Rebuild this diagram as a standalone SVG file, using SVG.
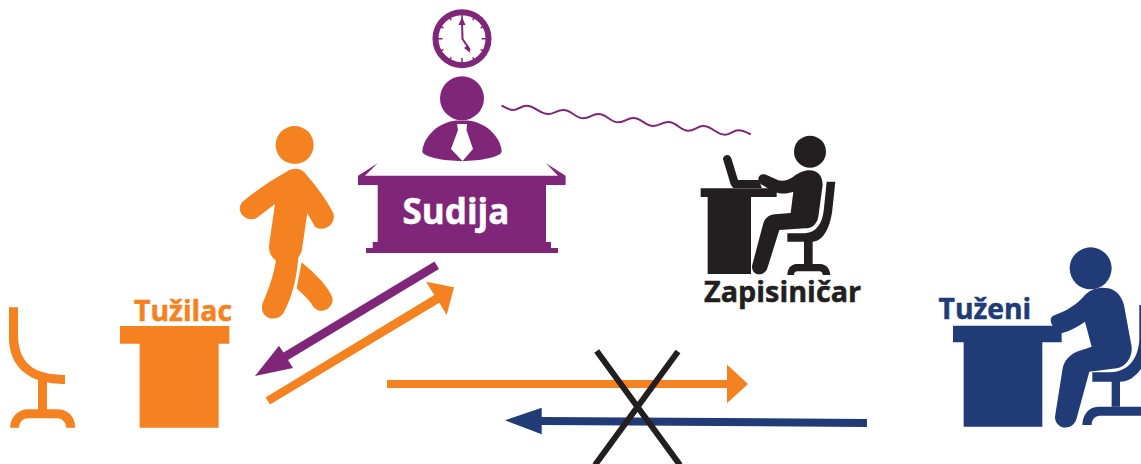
<svg xmlns="http://www.w3.org/2000/svg" width="1141" height="464" viewBox="0 0 1141 464">
<style>
.p{fill:#7f2679}.o{fill:#f58220}.n{fill:#203b75}.k{fill:#231f20}
text{font-family:"Open Sans","Liberation Sans",sans-serif;font-weight:700;stroke-width:.5px}
</style>
<rect width="1141" height="464" fill="#fff"/>
<g id="sudija">
<circle cx="462" cy="38.700" r="26.500" fill="none" stroke="#7f2679" stroke-width="6"/>
<g stroke="#7f2679" stroke-width="1.500">
<path d="M462 14V19M462 58V63M437.500 38.700H442.500M481.500 38.700H486.500M449.800 17.500l1.500 2.600M472.700 57.300l1.500 2.600M440.800 26.500l2.600 1.500M480.600 49.400l2.600 1.500M440.800 50.900l2.600-1.500M480.600 28l2.600-1.500M449.800 59.900l1.500-2.600M472.700 20.100l1.500-2.600"/>
<path d="M462 22L462.500 39L470 50" fill="none" stroke-width="2"/>
</g>
<path class="p" d="M462 17l3.500 8h-7zM470.500 53l-6.500-5 4-3z"/>
<circle class="p" cx="462" cy="98.300" r="22"/>
<path class="p" d="M422.300 151C424 135 440 122 456 120.500L468 120.500C484 122 500 135 501.700 151C502 157 480 161 462 161C444 161 422 157 422.300 151Z"/>
<path fill="#fff" d="M457 124H467L466.500 130L473 149L462.500 161L451 149L458 130Z"/>
<path class="p" d="M358 185V175.700L377.700 163.300L365 175.700H558L546 163.300L565.600 175.700V185H546V242H551V248H558V253H366V248H372.700V242H377.700V185Z"/>
<text x="402.500" y="224" font-size="35" fill="#fff" stroke="#fff">Sudija</text>
</g>
<g id="zapisnicar">
<g transform="translate(680 120) scale(.3333)" class="k">
<circle cx="390" cy="95" r="48"/>
<path d="M62 205H290V231H213V462H83V231H62Z"/>
<path d="M129 117C130 102 150 100 154 115L174 180H236L246 204H160C155 200 152 195 150 187Z"/>
<path d="M235 178C235 165 247 160 258 164L295 181C310 184 325 181 340 170C360 155 385 146 405 154C420 160 428 175 428 195L415 290C410 315 395 325 375 325L298 330L262 445C255 470 215 470 216 438L250 310C255 295 265 285 285 283L332 279L340 215C320 222 300 222 280 215L245 194C238 190 235 185 235 178Z"/>
<path d="M440 185H466L457 270C450 330 425 365 398 365V432H420C440 432 450 448 451 465H428C428 458 424 454 418 454H352C346 454 342 458 342 465H322C322 448 332 432 350 432H372V365H322V340H375C410 338 428 310 432 265Z"/>
</g>
<text x="704" y="301.500" font-size="28.800" fill="#231f20" stroke="#231f20">Zapisiničar</text>
</g>
<g id="tuzeni">
<g transform="translate(930 240) scale(.3333)" class="n">
<circle cx="482" cy="85" r="63"/>
<path d="M69 257H395V307H337V560H101V307H69Z"/>
<path d="M362 240C362 232 368 228 375 225C410 212 440 195 465 165C485 145 510 140 535 145C560 150 575 170 582 195L605 320C608 355 585 380 560 385L478 395L440 535C430 575 375 570 375 530L398 385C403 360 420 345 440 335L485 320L465 245C445 260 420 272 395 280C380 275 362 255 362 240Z"/>
<path d="M628 195H640V375C620 410 595 425 570 425V500H545V425H487V397H540C600 395 625 350 628 300Z"/>
<path d="M457 555C458 525 475 500 505 500H640V527H510C495 527 485 538 485 555Z"/>
</g>
<text x="938.500" y="318.700" font-size="28.300" fill="#203b75" stroke="#203b75">Tuženi</text>
</g>
<g id="tuzilac">
<g transform="translate(0 120) scale(.3333)" class="o">
<circle cx="884" cy="75" r="57"/>
<path d="M360 618H688V671H656V923H419V671H360Z"/>
<path d="M27 562H54V640C54 730 100 765 195 765V792C170 792 155 790 141 787V868H170C205 868 225 890 226 923H199C197 905 185 895 170 895H85C70 895 58 905 57 923H30C32 890 55 868 85 868H114V780C60 760 30 720 27 660Z"/>
<path d="M860 155C880 142 905 143 920 165C950 200 980 240 1000 280C1010 310 975 340 945 320L922 280L905 395L895 413C890 470 880 525 850 580C830 610 775 595 788 550C805 510 820 470 828 423C810 405 805 395 808 370L825 252L775 290C745 315 700 275 728 245C770 210 815 180 860 155Z"/>
<path d="M905 427C950 465 985 500 998 535C1000 570 960 585 940 560C925 535 905 520 890 505Z"/>
</g>
<text x="134" y="321" font-size="28.400" fill="#f58220" stroke="#f58220">Tužilac</text>
</g>
<g id="connectors">
<path fill="none" stroke="#7f2679" stroke-width="2" stroke-linecap="round" d="M502.300 106C506 108 509 110 513.300 110C518 110 521 105.700 526.700 105.700C535 105.700 539 114 548.300 114C554 114 557 110 563.300 110C572 110 575 118.300 583.300 118.300C590 118.300 592 114 598.300 114C607 114 610 122.300 618.300 122.300C625 122.300 627 118 633.300 118C642 118 645 126 653.300 126C660 126 662 122 668.300 122C677 122 680 130.700 688.300 130.700C695 130.700 697 126 703.300 126C712 126 716 134.700 725 134.700C731 134.700 733 130.300 738.300 130.300C743 130.300 746 132 750 134"/>
<path class="p" d="M434.500 261.500L439 269L288 360L293 368L255 376L279 345.700L283.500 352.500Z"/>
<path class="o" d="M265.500 397.500L270 404.500L439.300 302.700L446.700 315L454 287.300L426 281.700L434.300 295Z"/>
<path class="o" d="M387 380H727V364.500L748 384L727 403.300V388H387Z"/>
<path class="n" d="M867 419V427L541.700 425V434.300L505 420.300L541.700 407.700V417Z"/>
<path fill="none" stroke="#231f20" stroke-width="6" d="M596.700 351L680 465M678 351.500L595 465"/>
</g>
</svg>
